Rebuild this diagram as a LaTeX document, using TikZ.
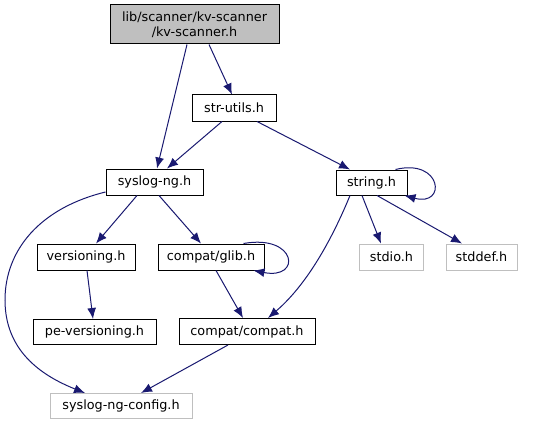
\documentclass[tikz,border=0pt]{standalone}
\usepackage{fontspec}
\setmainfont{DejaVu Sans}
\usetikzlibrary{arrows.meta}
\definecolor{edgeblue}{HTML}{191970}
\definecolor{gray75}{HTML}{BFBFBF}
\tikzset{
  box/.style={draw=black, line width=1pt, fill=white, inner sep=0pt, minimum height=26pt,
    font=\fontsize{12.8}{15}\selectfont, text=black},
  extbox/.style={box, draw=gray75},
  dep/.style={draw=edgeblue, line width=1pt, -{Latex[length=11pt,width=9pt]}}
}
\begin{document}
\begin{tikzpicture}[x=1pt,y=-1pt]
\useasboundingbox (0,0) rectangle (545,425);
\node[box, fill=gray75, minimum width=169pt, minimum height=39pt, align=center] (root) at (194.5,24.5) {lib/scanner/kv-scanner\\/kv-scanner.h};
\node[box, minimum width=84pt] (strutils) at (234,108) {str-utils.h};
\node[box, minimum width=97pt] (syslogng) at (154.5,182) {syslog-ng.h};
\node[box, minimum width=71pt, minimum height=25pt] (stringh) at (371.5,182.5) {string.h};
\node[box, minimum width=98pt] (versioning) at (86,257) {versioning.h};
\node[box, minimum width=106pt] (glib) at (211,257) {compat/glib.h};
\node[extbox, minimum width=64pt] (stdio) at (391.5,257) {stdio.h};
\node[extbox, minimum width=71pt] (stddef) at (481.5,257) {stddef.h};
\node[box, minimum width=123pt, minimum height=25pt] (pever) at (94.5,332) {pe-versioning.h};
\node[box, minimum width=136pt] (compat) at (247,331.5) {compat/compat.h};
\node[extbox, minimum width=142pt, minimum height=25pt] (config) at (121,406) {syslog-ng-config.h};

\draw[dep] ([xshift=-7.5]root.south) -- ([xshift=2.5]syslogng.north);
\draw[dep] ([xshift=14.5]root.south) -- ([xshift=-2]strutils.north);
\draw[dep] ([xshift=-12]strutils.south) -- ([xshift=12.5]syslogng.north);
\draw[dep] ([xshift=23]strutils.south) -- ([xshift=-21.5]stringh.north);
\draw[dep] ([xshift=-17.5]syslogng.south) -- ([xshift=10]versioning.north);
\draw[dep] ([xshift=4.5]syslogng.south) -- ([xshift=-10]glib.north);
\draw[dep] ([yshift=-10]syslogng.west) .. controls (40,208) and (5,250) .. (5,300) .. controls (5,350) and (40,375) .. ([xshift=-36]config.north);
\draw[dep] ([xshift=-21]glib.north east) .. controls (297,234) and (302,280) .. ([xshift=-11]glib.south east);
\draw[dep] ([xshift=5]glib.south) -- ([xshift=-4]compat.north);
\draw[dep] ([xshift=-21.5]stringh.south) .. controls (335,232) and (310,282) .. ([xshift=21]compat.north);
\draw[dep] ([xshift=-12]stringh.north east) .. controls (442,158) and (447,207) .. ([xshift=-3]stringh.south east);
\draw[dep] ([xshift=-9.5]stringh.south) -- ([xshift=-10.5]stdio.north);
\draw[dep] ([xshift=5.5]stringh.south) -- ([xshift=-19.5]stddef.north);
\draw[dep] ([xshift=1]versioning.south) -- ([xshift=-1.5]pever.north);
\draw[dep] ([xshift=-19]compat.south) -- ([xshift=20]config.north);
\end{tikzpicture}
\end{document}
